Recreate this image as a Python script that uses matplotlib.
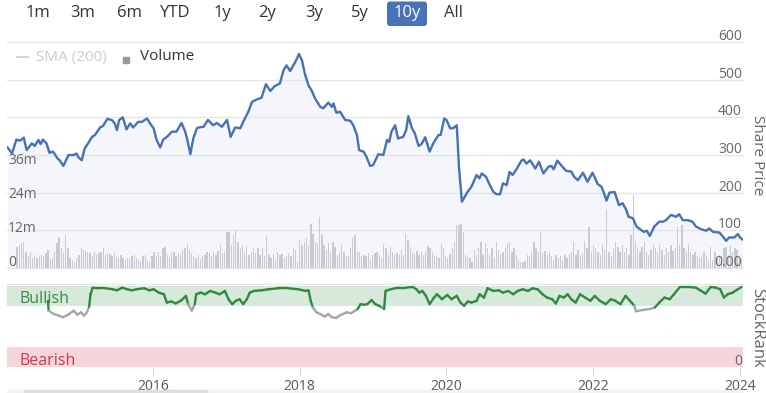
import numpy as np
import matplotlib
matplotlib.use("Agg")
import matplotlib.pyplot as plt
import matplotlib.transforms as mtrans
from matplotlib.collections import LineCollection
from matplotlib.patches import FancyBboxPatch, Rectangle
from matplotlib.lines import Line2D

plt.rcParams['font.family'] = ['Open Sans', 'DejaVu Sans']

# share price (decimal years)
price_years = [
    2014.02, 2014.08, 2014.14, 2014.19, 2014.24, 2014.28, 2014.35, 2014.39, 2014.44, 2014.47,
    2014.50, 2014.55, 2014.59, 2014.64, 2014.70, 2014.73, 2014.78, 2014.85, 2014.92, 2014.96,
    2014.98, 2015.03, 2015.07, 2015.12, 2015.17, 2015.21, 2015.28, 2015.32, 2015.38, 2015.44,
    2015.48, 2015.51, 2015.54, 2015.59, 2015.64, 2015.69, 2015.73, 2015.80, 2015.85, 2015.92,
    2015.96, 2016.01, 2016.05, 2016.10, 2016.14, 2016.19, 2016.26, 2016.32, 2016.39, 2016.44,
    2016.47, 2016.51, 2016.55, 2016.60, 2016.62, 2016.69, 2016.75, 2016.82, 2016.87, 2016.94,
    2017.01, 2017.06, 2017.12, 2017.19, 2017.23, 2017.30, 2017.35, 2017.41, 2017.48, 2017.54,
    2017.60, 2017.66, 2017.73, 2017.78, 2017.82, 2017.87, 2017.94, 2017.99, 2018.03, 2018.07,
    2018.12, 2018.16, 2018.21, 2018.28, 2018.32, 2018.39, 2018.44, 2018.46, 2018.50, 2018.55,
    2018.62, 2018.69, 2018.73, 2018.78, 2018.81, 2018.87, 2018.91, 2018.96, 2019.00, 2019.07,
    2019.14, 2019.19, 2019.22, 2019.25, 2019.30, 2019.34, 2019.41, 2019.45, 2019.48, 2019.53,
    2019.57, 2019.62, 2019.66, 2019.71, 2019.77, 2019.82, 2019.89, 2019.92, 2019.97, 2020.00,
    2020.05, 2020.09, 2020.14, 2020.17, 2020.21, 2020.25, 2020.28, 2020.34, 2020.41, 2020.45,
    2020.48, 2020.54, 2020.59, 2020.64, 2020.68, 2020.73, 2020.77, 2020.82, 2020.86, 2020.90,
    2020.96, 2021.02, 2021.05, 2021.09, 2021.14, 2021.21, 2021.26, 2021.32, 2021.39, 2021.43,
    2021.46, 2021.51, 2021.57, 2021.63, 2021.70, 2021.74, 2021.79, 2021.86, 2021.92, 2021.99,
    2022.06, 2022.11, 2022.14, 2022.18, 2022.22, 2022.29, 2022.35, 2022.40, 2022.45, 2022.48,
    2022.54, 2022.59, 2022.65, 2022.69, 2022.73, 2022.77, 2022.83, 2022.90, 2022.95, 2022.99,
    2023.06, 2023.13, 2023.17, 2023.22, 2023.29, 2023.35, 2023.40, 2023.47, 2023.54, 2023.58,
    2023.63, 2023.72, 2023.76, 2023.81, 2023.85, 2023.92, 2023.97, 2024.00, 2024.03,
]
prices = [
    320, 304, 341, 338, 346, 313, 331, 324, 340, 329,
    341, 331, 306, 309, 291, 286, 271, 300, 300, 304,
    295, 286, 317, 332, 348, 353, 373, 377, 396, 393,
    384, 366, 393, 400, 368, 384, 373, 388, 388, 397,
    384, 371, 340, 320, 341, 348, 362, 362, 385, 362,
    340, 302, 344, 371, 373, 375, 393, 379, 385, 375,
    393, 348, 373, 371, 388, 415, 441, 447, 452, 488,
    470, 483, 490, 525, 538, 523, 547, 568, 552, 516,
    485, 472, 450, 428, 424, 439, 428, 437, 412, 415,
    393, 391, 379, 353, 313, 309, 295, 271, 273, 302,
    300, 340, 335, 362, 379, 344, 348, 366, 403, 371,
    357, 324, 329, 347, 309, 331, 353, 353, 397, 393,
    371, 371, 379, 269, 176, 190, 200, 216, 247, 238,
    251, 242, 220, 202, 196, 196, 225, 220, 255, 247,
    264, 285, 288, 277, 286, 264, 282, 251, 269, 271,
    262, 285, 271, 258, 256, 242, 233, 253, 229, 253,
    223, 216, 202, 179, 200, 202, 167, 172, 154, 136,
    132, 110, 101, 96, 99, 85, 110, 123, 123, 127,
    141, 136, 143, 127, 127, 123, 110, 103, 99, 105,
    96, 94, 85, 72, 81, 81, 90, 81, 76,
]

# volume in millions, evenly spaced bars between these dates
vol_first, vol_last = 2014.15, 2024.02
volume_m = [
    7.6, 8.2, 8.7, 9.3, 5.8, 4.1, 5.8, 3.7, 4.7, 3.5, 4.1, 4.7, 4.1, 5.2, 6.4, 3.3, 3.7, 5.8,
    8.7, 11.1, 7.0, 5.2, 11.7, 7.0, 3.5, 2.9, 2.3, 3.5, 4.7, 7.0, 6.4, 6.1, 5.8, 5.2, 4.1, 5.8,
    4.7, 5.2, 5.8, 7.0, 4.7, 5.2, 4.9, 4.1, 5.2, 4.4, 3.5, 4.7, 3.5, 2.9, 3.7, 3.3, 4.1, 4.7,
    3.5, 2.9, 2.6, 4.1, 4.7, 2.9, 2.3, 4.1, 5.8, 4.7, 5.8, 4.1, 7.0, 7.6, 4.7, 3.5, 5.2, 5.8,
    4.1, 5.2, 4.7, 6.4, 7.0, 8.4, 6.4, 5.2, 4.1, 3.5, 4.7, 3.3, 4.1, 4.7, 5.8, 5.2, 4.1, 5.8,
    4.7, 6.1, 8.2, 5.2, 5.8, 12.8, 12.6, 8.2, 11.7, 13.4, 9.3, 7.0, 8.2, 5.8, 7.6, 4.7,
    5.8, 7.0, 5.2, 7.0, 4.7, 7.0, 4.1, 11.3, 4.7, 3.5, 4.9, 3.3, 5.6, 4.7, 4.9, 3.7, 4.1, 5.2,
    4.1, 7.0, 6.4, 2.3, 9.9, 8.2, 9.3, 10.5, 8.2, 15.7, 12.2, 9.3, 8.7, 18.1, 11.7, 8.2, 6.4,
    8.7, 5.8, 9.1, 7.6, 4.7, 5.8, 8.2, 5.8, 4.1, 4.1, 7.0, 10.5, 11.7, 5.8, 5.8, 4.1, 4.7, 4.1,
    5.2, 2.9, 4.7, 5.2, 5.8, 4.7, 3.5, 8.4, 7.0, 4.7, 7.6, 5.8, 4.7, 5.2, 4.7, 6.4, 4.7, 12.2,
    9.9, 7.6, 5.8, 4.9, 6.1, 4.7, 5.8, 4.7, 5.8, 7.9, 7.0, 5.8, 4.7, 4.4, 3.5, 8.4, 7.0, 4.1,
    3.5, 4.9, 7.0, 9.3, 15.1, 15.1, 15.4, 12.8, 4.7, 4.1, 3.5, 2.3, 6.4, 4.7, 7.0, 9.1, 4.7,
    8.7, 7.0, 4.7, 7.0, 3.5, 9.3, 6.4, 4.9,
    5.8, 7.0, 8.4, 9.3, 5.8, 7.0, 4.7, 2.9, 2.3, 2.1, 2.6, 4.7, 4.1, 5.8, 9.3, 7.0, 5.8, 12.8,
    5.2, 6.1, 4.7, 5.8, 4.1, 2.9, 4.7, 3.5, 4.1, 2.9, 4.7, 3.5, 4.9, 5.8, 9.1, 4.7, 6.4, 4.7,
    5.2, 9.6, 7.0, 14.6, 5.8, 8.2, 7.0, 5.8, 4.7, 8.2, 6.4, 21.0, 5.8, 4.1, 7.0, 9.3, 7.6, 5.8,
    8.2, 5.8, 7.0, 4.7, 11.7, 26.0, 9.6, 7.0, 5.8, 7.6, 9.3, 5.8, 4.7, 6.4, 8.2, 7.0, 5.8, 8.2,
    6.4, 4.7, 7.0, 5.8, 8.2, 6.1, 7.0, 14.6, 8.2, 15.1, 7.0, 5.8, 8.4, 5.8, 4.7, 5.8, 4.1, 3.5,
    4.7, 5.8, 4.7, 2.9, 7.6, 2.9, 5.8, 3.5, 4.7, 4.1, 7.0, 7.6, 4.7, 8.2, 5.8, 7.0, 6.4, 2.9, 3.5,
]

# StockRank (0-100)
rank_years = [
    2014.57, 2014.58, 2014.65, 2014.72, 2014.77, 2014.82, 2014.86, 2014.92, 2014.97, 2015.02,
    2015.06, 2015.10, 2015.13, 2015.15, 2015.18, 2015.25, 2015.35, 2015.45, 2015.51, 2015.58,
    2015.65, 2015.71, 2015.78, 2015.88, 2015.95, 2016.01, 2016.08, 2016.15, 2016.19, 2016.25,
    2016.31, 2016.38, 2016.45, 2016.48, 2016.53, 2016.57, 2016.59, 2016.65, 2016.71, 2016.78,
    2016.85, 2016.91, 2016.98, 2017.03, 2017.08, 2017.13, 2017.18, 2017.23, 2017.28, 2017.32,
    2017.38, 2017.48, 2017.58, 2017.71, 2017.84, 2017.98, 2018.08, 2018.12, 2018.15, 2018.18,
    2018.23, 2018.28, 2018.34, 2018.39, 2018.44, 2018.50, 2018.54, 2018.59, 2018.64, 2018.70,
    2018.74, 2018.79, 2018.83, 2018.88, 2018.92, 2018.98, 2019.03, 2019.08, 2019.12, 2019.15,
    2019.17, 2019.24, 2019.34, 2019.44, 2019.54, 2019.59, 2019.63, 2019.67, 2019.72, 2019.77,
    2019.83, 2019.87, 2019.94, 2020.01, 2020.07, 2020.14, 2020.19, 2020.24, 2020.29, 2020.34,
    2020.41, 2020.45, 2020.51, 2020.56, 2020.64, 2020.71, 2020.77, 2020.84, 2020.91, 2020.97,
    2021.04, 2021.11, 2021.17, 2021.24, 2021.31, 2021.37, 2021.44, 2021.49, 2021.54, 2021.60,
    2021.65, 2021.70, 2021.76, 2021.82, 2021.89, 2021.96, 2022.02, 2022.09, 2022.17, 2022.24,
    2022.30, 2022.37, 2022.44, 2022.50, 2022.56, 2022.58, 2022.67, 2022.77, 2022.84, 2022.90,
    2022.97, 2023.04, 2023.10, 2023.18, 2023.30, 2023.40, 2023.47, 2023.53, 2023.60, 2023.67,
    2023.73, 2023.78, 2023.83, 2023.90, 2023.97, 2024.02,
]
rank = [
    81.7, 69.5, 65.4, 63.4, 61.4, 63.4, 65.4, 69.5, 64.6, 67.5,
    63.4, 67.5, 74.4, 89.8, 97.9, 97.2, 97.2, 96.0, 94.7, 97.9,
    96.0, 94.7, 96.0, 97.2, 94.7, 96.0, 91.8, 89.8, 79.6, 80.9,
    78.5, 81.7, 87.8, 77.6, 69.5, 77.6, 89.8, 91.8, 89.8, 93.9,
    91.8, 89.8, 93.9, 83.7, 77.6, 81.7, 83.7, 77.6, 83.7, 91.8,
    93.9, 94.7, 96.0, 97.2, 97.2, 96.0, 93.9, 94.7, 81.7, 73.5,
    67.5, 65.4, 62.2, 65.4, 61.4, 60.6, 63.4, 65.4, 67.5, 66.3,
    68.7, 71.6, 77.6, 76.8, 77.6, 82.5, 77.6, 75.6, 73.5, 71.6,
    93.9, 96.0, 97.9, 97.9, 98.8, 96.0, 91.8, 93.9, 87.8, 77.6,
    85.7, 89.8, 83.7, 89.0, 83.7, 87.8, 79.6, 75.6, 80.9, 79.6,
    81.7, 89.8, 85.7, 97.2, 93.9, 94.7, 91.8, 93.9, 89.8, 93.9,
    96.0, 93.9, 97.2, 96.0, 89.8, 85.7, 83.7, 78.5, 87.8, 85.7,
    89.8, 83.7, 79.6, 89.8, 85.7, 81.7, 87.8, 81.7, 77.6, 83.7,
    81.7, 77.6, 87.8, 81.7, 75.6, 68.7, 70.3, 71.6, 73.5, 79.6,
    85.7, 83.7, 89.8, 98.8, 98.8, 97.9, 93.9, 90.6, 98.8, 97.9,
    96.0, 85.7, 89.8, 91.8, 96.0, 98.8,
]

buttons = ["1m", "3m", "6m", "YTD", "1y", "2y", "3y", "5y", "10y", "All"]
selected = "10y"
year_ticks = [2016, 2018, 2020, 2022, 2024]
price_ticks = [0, 100, 200, 300, 400, 500, 600]
price_labels = ["0.00", "100", "200", "300", "400", "500", "600"]
vol_ticks = [0, 12, 24, 36]
vol_labels = ["0", "12m", "24m", "36m"]

W, H = 766, 393
XMIN, XMAX = 2014.012, 2024.040
GRID = '#e6e6e6'
LABEL = '#666666'


def px(x, y):
    # pixel position (from top-left) to figure fraction
    return x / W, 1 - y / H


def clean(a):
    a.set_xticks([])
    a.set_yticks([])
    for s in a.spines.values():
        s.set_visible(False)


fig = plt.figure(figsize=(W / 100, H / 100), dpi=100)

# range selector buttons
btn_x = [37.5, 83, 129, 175, 222, 267, 314, 360, 407, 453]
fig.add_artist(FancyBboxPatch((3.87, (H - 26) / 100), 0.40, 0.245,
                              boxstyle='round,pad=0,rounding_size=0.03',
                              fc='#4a72b8', ec='none', transform=fig.dpi_scale_trans))
for b, bx in zip(buttons, btn_x):
    fig.text(*px(bx, 13), b, ha='center', va='center', fontsize=12,
             color='white' if b == selected else '#333333')

# legend
fig.add_artist(Line2D([17 / W, 28 / W], [1 - 57 / H] * 2, color='#cccccc', lw=1.2,
                      transform=fig.transFigure))
fig.text(*px(36, 57), "SMA (200)", color='#cccccc', fontsize=11, va='center')
fig.add_artist(Rectangle(px(123, 63), 6 / W, 6 / H, color='#999999',
                         transform=fig.transFigure))
fig.text(*px(140, 57), "Volume", color='#333333', fontsize=11, va='center')

# main price / volume panel
ax = fig.add_axes([7 / W, 1 - 268 / H, 736 / W, 226 / H])
ax.set_xlim(XMIN, XMAX)
ax.set_ylim(0, 600)
ax.fill_between(price_years, prices, 0, color='#f4f6fb', lw=0, zorder=1)
for t in price_ticks:
    ax.axhline(t, color=GRID, lw=1, zorder=2, clip_on=False)
clean(ax)

axv = ax.twinx()
axv.set_ylim(0, 80)
vol_years = np.linspace(vol_first, vol_last, len(volume_m))
step = (vol_last - vol_first) / (len(volume_m) - 1)
axv.bar(vol_years, volume_m, width=step * 0.6, color='#c8cacf', lw=0)
clean(axv)

axl = ax.twinx()
axl.set_ylim(0, 600)
axl.plot(price_years, prices, color='#4671b7', lw=1.7, solid_joinstyle='round')
clean(axl)

tr_p = mtrans.offset_copy(mtrans.blended_transform_factory(axl.transAxes, axl.transData),
                          fig=fig, x=-1, y=2, units='dots')
for t, lbl in zip(price_ticks, price_labels):
    axl.text(1, t, lbl, transform=tr_p, ha='right', va='baseline', fontsize=10, color=LABEL)
tr_v = mtrans.offset_copy(mtrans.blended_transform_factory(axl.transAxes, axv.transData),
                          fig=fig, x=1, y=2, units='dots')
for t, lbl in zip(vol_ticks, vol_labels):
    axl.text(0, t, lbl, transform=tr_v, ha='left', va='baseline', fontsize=10, color=LABEL)

fig.text(*px(757, 155), "Share Price", rotation=270, ha='center', va='center',
         fontsize=11, color=LABEL)

# StockRank panel
ax2 = fig.add_axes([7 / W, 1 - 367 / H, 736 / W, 83 / H])
ax2.set_xlim(XMIN, XMAX)
ax2.set_ylim(0, 100 * 83 / 81)
ax2.axhspan(75, 100, color='#d6e9da', lw=0)
ax2.axhspan(0, 25, color='#f6d6db', lw=0)

pts = np.column_stack([rank_years, rank])
segs = np.stack([pts[:-1], pts[1:]], axis=1)
mids = (np.array(rank[:-1]) + np.array(rank[1:])) / 2
cols = ['#2f8a3c' if m >= 74 else '#a6a6a6' for m in mids]
ax2.add_collection(LineCollection(segs, colors=cols, linewidths=1.7, capstyle='round'))

for s in ax2.spines.values():
    s.set_visible(False)
ax2.spines['top'].set_visible(True)
ax2.spines['top'].set_color(GRID)
ax2.set_yticks([])
ax2.set_xticks(year_ticks)
ax2.set_xticklabels([str(y) for y in year_ticks])
ax2.tick_params(axis='x', length=6, color='#ccd6eb', labelcolor='#555555',
                labelsize=10, pad=3)

tr_b = mtrans.blended_transform_factory(ax2.transAxes, ax2.transData)
ax2.text(0, 75, "Bullish", transform=mtrans.offset_copy(tr_b, fig=fig, x=12.5, y=3, units='dots'),
         va='baseline', fontsize=11.5, color='#3a8a47')
ax2.text(0, 0, "Bearish", transform=mtrans.offset_copy(tr_b, fig=fig, x=12.5, y=2, units='dots'),
         va='baseline', fontsize=11.5, color='#d0364f')
ax2.text(1, 0, "0", transform=mtrans.offset_copy(tr_b, fig=fig, x=-1, y=2, units='dots'),
         ha='right', va='baseline', fontsize=10, color=LABEL)

fig.text(*px(757, 328), "StockRank", rotation=270, ha='center', va='center',
         fontsize=12, color=LABEL)

# navigator scrollbar strip at the bottom
fig.add_artist(Rectangle((7 / W, 0), 736 / W, 3 / H, color='#f2f2f2', transform=fig.transFigure))
fig.add_artist(Rectangle((24 / W, 0), 183 / W, 3 / H, color='#dedede', transform=fig.transFigure))

fig.savefig("out.png", dpi=100)
